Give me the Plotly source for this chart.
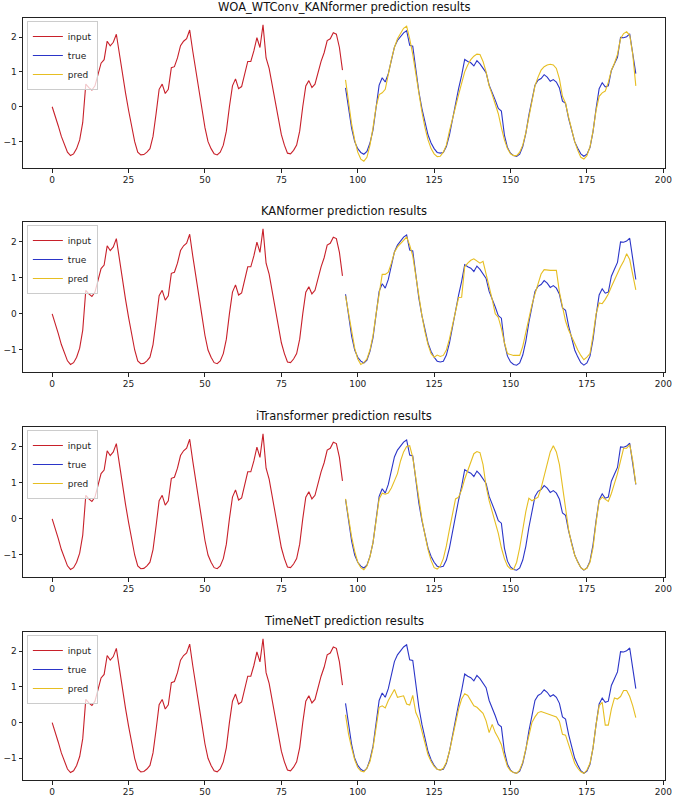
import plotly.graph_objects as go

# ---------------- data ----------------
input_vals = [0.0, -0.25, -0.55, -0.85, -1.1, -1.3, -1.4, -1.35, -1.2, -0.95,
              -0.45, 0.65, 0.55, 0.48, 0.6, 0.95, 1.25, 1.35, 1.88, 1.75,
              1.85, 2.08, 1.5, 0.9, 0.4, -0.1, -0.6, -1.0, -1.3, -1.38,
              -1.37, -1.3, -1.2, -0.85, -0.2, 0.5, 0.65, 0.38, 0.5, 1.12,
              1.15, 1.4, 1.75, 1.88, 1.95, 2.2, 1.6, 1.0, 0.45, -0.05,
              -0.6, -1.0, -1.2, -1.35, -1.38, -1.3, -1.1, -0.7, 0.0, 0.6,
              0.8, 0.52, 0.58, 0.95, 1.3, 1.3, 1.6, 1.98, 1.7, 2.35,
              1.4, 1.1, 0.6, 0.1, -0.4, -0.8, -1.1, -1.33, -1.35, -1.25,
              -1.1, -0.7, 0.0, 0.6, 0.75, 0.55, 0.65, 1.0, 1.3, 1.55,
              1.9, 1.95, 2.12, 2.08, 1.7, 1.05]

true_vals = [0.54, 0.0, -0.62, -1.0, -1.2, -1.31, -1.36, -1.28, -1.04, -0.66,
             -0.05, 0.62, 0.83, 0.71, 0.95, 1.38, 1.71, 1.9, 2.0, 2.12,
             2.18, 1.76, 1.74, 1.0, 0.43, -0.05, -0.47, -0.81, -1.04, -1.2,
             -1.31, -1.33, -1.31, -1.14, -0.81, -0.33, 0.14, 0.52, 0.9, 1.36,
             1.3, 1.26, 1.17, 1.32, 1.23, 1.11, 0.98, 0.62, 0.43, 0.19,
             -0.05, -0.12, -0.81, -1.17, -1.33, -1.4, -1.42, -1.36, -1.14, -0.76,
             -0.24, 0.24, 0.62, 0.76, 0.81, 0.92, 0.85, 0.73, 0.78, 0.71,
             0.54, 0.16, 0.1, -0.33, -0.71, -1.0, -1.19, -1.35, -1.42, -1.36,
             -1.17, -0.71, -0.05, 0.52, 0.69, 0.57, 0.6, 1.04, 1.23, 1.42,
             1.99, 1.98, 2.01, 2.09, 1.52, 0.95]

pred_woa = [0.77, 0.1, -0.5, -0.95, -1.3, -1.5, -1.56, -1.45, -1.1, -0.6,
            0.0, 0.35, 0.4, 0.5, 0.95, 1.35, 1.7, 1.95, 2.1, 2.25,
            2.31, 1.95, 1.5, 0.9, 0.35, -0.15, -0.6, -0.95, -1.2, -1.35,
            -1.43, -1.42, -1.3, -1.1, -0.7, -0.3, 0.0, 0.35, 0.7, 1.0,
            1.2, 1.35, 1.45, 1.51, 1.5, 1.3, 1.0, 0.6, 0.35, 0.1,
            -0.2, -0.6, -0.95, -1.2, -1.35, -1.4, -1.4, -1.3, -1.1, -0.75,
            -0.3, 0.2, 0.6, 0.85, 1.05, 1.15, 1.2, 1.22, 1.2, 1.1,
            0.8, 0.3, 0.1, -0.3, -0.7, -1.0, -1.25, -1.45, -1.5, -1.4,
            -1.15, -0.7, -0.1, 0.3, 0.4, 0.45, 0.7, 1.05, 1.25, 1.5,
            1.95, 2.1, 2.15, 2.05, 1.5, 0.6]

pred_kan = [0.5, 0.0, -0.55, -0.95, -1.25, -1.4, -1.35, -1.25, -1.0, -0.6,
            0.0, 0.6, 1.09, 1.09, 1.15, 1.4, 1.7, 1.85, 1.95, 2.05,
            2.12, 1.9, 1.6, 1.05, 0.45, -0.05, -0.5, -0.85, -1.1, -1.2,
            -1.14, -1.18, -1.15, -1.0, -0.7, -0.3, 0.1, 0.45, 0.46, 1.3,
            1.4, 1.48, 1.52, 1.45, 1.4, 1.45, 1.1, 0.8, 0.4, 0.0,
            -0.1, -0.4, -0.8, -1.1, -1.13, -1.15, -1.15, -1.15, -0.9, -0.5,
            -0.05, 0.25, 0.55, 0.85, 1.1, 1.22, 1.2, 1.2, 1.2, 1.2,
            0.6, 0.2, -0.2, -0.45, -0.65, -0.85, -1.0, -1.15, -1.27, -1.2,
            -1.1, -0.6, 0.0, 0.3, 0.28, 0.4, 0.55, 0.75, 0.95, 1.1,
            1.3, 1.45, 1.66, 1.5, 1.1, 0.66]

pred_itr = [0.55, 0.0, -0.5, -0.9, -1.2, -1.35, -1.41, -1.3, -1.05, -0.65,
            0.0, 0.55, 0.71, 0.68, 0.71, 0.85, 1.05, 1.25, 1.6, 1.85,
            2.0, 2.02, 1.7, 1.1, 0.5, 0.0, -0.45, -0.85, -1.15, -1.35,
            -1.39, -1.3, -1.1, -0.75, -0.3, 0.15, 0.55, 0.6, 0.8, 1.1,
            1.35, 1.6, 1.8, 1.86, 1.83, 1.5, 0.9, 0.5, 0.2, -0.1,
            -0.4, -0.8, -1.1, -1.3, -1.39, -1.4, -1.2, -0.8, -0.3, 0.2,
            0.57, 0.5, 0.55, 0.6, 0.85, 1.2, 1.55, 1.85, 2.02, 1.85,
            1.5, 0.9, 0.2, -0.3, -0.7, -1.0, -1.2, -1.35, -1.41, -1.37,
            -1.2, -0.8, -0.1, 0.5, 0.6, 0.55, 0.48, 0.7, 0.95, 1.25,
            1.6, 1.95, 1.95, 2.05, 1.6, 0.96]

pred_tnt = [0.22, -0.33, -0.71, -1.04, -1.26, -1.36, -1.38, -1.28, -1.09, -0.71,
            -0.14, 0.43, 0.47, 0.41, 0.62, 0.76, 0.93, 0.71, 0.73, 0.75,
            0.52, 0.49, 0.76, 0.28, 0.09, -0.24, -0.62, -0.9, -1.09, -1.23,
            -1.31, -1.33, -1.28, -1.11, -0.81, -0.38, 0.05, 0.38, 0.66, 0.81,
            0.76, 0.62, 0.47, 0.43, 0.35, 0.26, 0.05, -0.28, -0.05, -0.28,
            -0.43, -0.62, -0.95, -1.23, -1.35, -1.4, -1.42, -1.33, -1.11, -0.76,
            -0.33, 0.0, 0.16, 0.28, 0.31, 0.28, 0.26, 0.22, 0.19, 0.16,
            0.03, -0.33, -0.35, -0.62, -0.9, -1.14, -1.28, -1.38, -1.42, -1.33,
            -1.14, -0.71, -0.05, 0.47, 0.57, -0.07, -0.07, 0.38, 0.69, 0.66,
            0.73, 0.9, 0.9, 0.73, 0.47, 0.14]

titles = ["WOA_WTConv_KANformer prediction results",
          "KANformer prediction results",
          "iTransformer prediction results",
          "TimeNetT prediction results"]
preds = [pred_woa, pred_kan, pred_itr, pred_tnt]
x_input = list(range(len(input_vals)))
x_future = list(range(len(input_vals), len(input_vals) + len(true_vals)))
x_ticks = [0, 25, 50, 75, 100, 125, 150, 175, 200]
y_ticks = [-1, 0, 1, 2]

# ---------------- style ----------------
C_IN, C_TRUE, C_PRED = "#c8202a", "#2b35c8", "#e6be22"
FONT = "DejaVu Sans"
W, H = 676, 800
ML, MR, MT, MB = 23, 11, 18, 20
rows_px = [(18, 168), (222, 372), (427, 577), (632, 780)]
plot_h = H - MT - MB


def to_paper(ypx):
    return (H - MB - ypx) / plot_h


fig = go.Figure()
layout = {}
annotations = []
for i, (title, pred) in enumerate(zip(titles, preds)):
    n = i + 1
    xa = "x" if n == 1 else f"x{n}"
    ya = "y" if n == 1 else f"y{n}"
    lg = "legend" if n == 1 else f"legend{n}"
    for name, xs, ys, col in [("input", x_input, input_vals, C_IN),
                              ("true", x_future, true_vals, C_TRUE),
                              ("pred", x_future, pred, C_PRED)]:
        fig.add_trace(go.Scatter(x=xs, y=ys, mode="lines", name=name,
                                 line=dict(color=col, width=1.1),
                                 xaxis=xa, yaxis=ya, legend=lg))
    top, bot = rows_px[i]
    d0, d1 = to_paper(bot), to_paper(top)
    allv = input_vals + true_vals + pred
    lo, hi = min(allv), max(allv)
    pad = (hi - lo) * 0.05
    xmin, xmax = 0, len(input_vals) + len(true_vals) - 1
    xpad = (xmax - xmin) * 0.05
    axcommon = dict(showline=True, linecolor="#222", linewidth=1, mirror=True,
                    showgrid=False, zeroline=False, ticks="outside", ticklen=3.5,
                    tickwidth=1, tickcolor="#222", automargin=False,
                    tickfont=dict(family=FONT, size=9, color="#222"))
    layout[f"xaxis{'' if n == 1 else n}"] = dict(
        domain=[0, 1], anchor=ya, range=[xmin - xpad, xmax + xpad],
        tickvals=x_ticks, **axcommon)
    layout[f"yaxis{'' if n == 1 else n}"] = dict(
        domain=[d0, d1], anchor=xa, range=[lo - pad, hi + pad],
        tickvals=y_ticks, **axcommon)
    layout[lg] = dict(x=0.006, y=to_paper(top + 3), xanchor="left", yanchor="top",
                      bgcolor="rgba(255,255,255,0.75)", bordercolor="#cccccc",
                      borderwidth=1, font=dict(family=FONT, size=9, color="#222"),
                      tracegroupgap=0, itemwidth=30)
    annotations.append(dict(text=title, x=0.5, y=d1, xref="paper", yref="paper",
                            xanchor="center", yanchor="bottom", yshift=2,
                            showarrow=False,
                            font=dict(family=FONT, size=11.5, color="#111")))

fig.update_layout(width=W, height=H, margin=dict(l=ML, r=MR, t=MT, b=MB,
                                                 autoexpand=False),
                  paper_bgcolor="white", plot_bgcolor="white",
                  showlegend=True, annotations=annotations, **layout)

fig.write_html("out.html")
